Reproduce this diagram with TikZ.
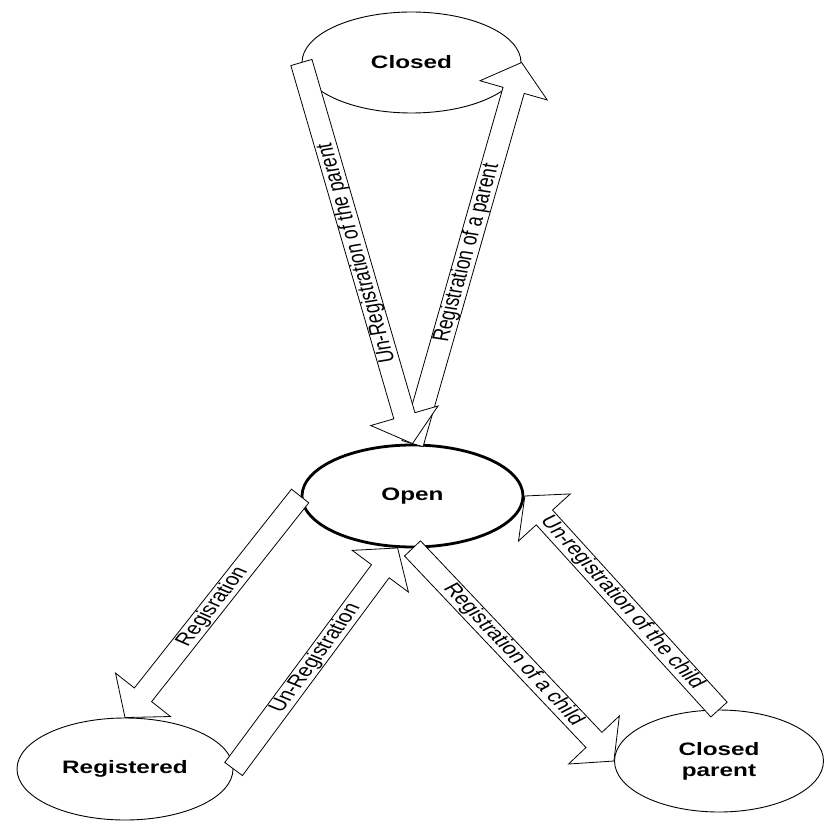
\documentclass[tikz,border=0pt]{standalone}
\usepackage{fontspec}
\setmainfont{Liberation Sans}
\usetikzlibrary{calc,shapes.geometric}
\tikzset{
  state/.style={ellipse, draw, line width=0.9pt, xscale=1.35, inner sep=0pt,
    font=\bfseries\fontsize{18}{21}\selectfont, align=center},
  openstate/.style={state, line width=2.8pt},
  barrow/.style={draw, fill=white, line width=0.8pt, line join=miter},
  alabel/.style={font=\fontsize{17.5}{20}\selectfont, inner sep=0pt, xscale=1.35}
}
% block arrow from #1 (tail) to #2 (tip)
\newcommand\blockarrow[2]{%
  \path ($(#2)!29pt!(#1)$) coordinate (hb);
  \draw[barrow] ($(#1)!11pt!-90:(#2)$) -- ($(hb)!11pt!-90:(#2)$)
    -- ($(hb)!35pt!-90:(#2)$) -- (#2) -- ($(hb)!35pt!90:(#2)$)
    -- ($(hb)!11pt!90:(#2)$) -- ($(#1)!11pt!90:(#2)$) -- cycle;}
% label reading from #1 towards #2, centred between them
\newcommand\arrowtext[3]{%
  \path let \p1=(#1), \p2=(#2), \n1={atan2(\y2-\y1,(\x2-\x1)/1.35)} in
    node[alabel, rotate=\n1] at ($(\p1)!0.5!(\p2)$) {#3};}
\begin{document}
\begin{tikzpicture}[x=1pt,y=1pt]
\useasboundingbox (0,0) rectangle (824,-821);
\node[state, minimum width=162.2pt, minimum height=101pt] (closed) at (411.5,-62.5) {Closed};
\node[openstate, minimum width=163.7pt, minimum height=102pt] (open) at (412.5,-496) {Open};
\node[state, minimum width=160pt, minimum height=102pt] (reg) at (125,-769) {Registered};
\node[state, minimum width=154.8pt, minimum height=102pt] (cparent) at (719,-761) {Closed\\parent};

\blockarrow{open.north}{closed.east}
\blockarrow{closed.west}{open.north}
\blockarrow{open.west}{reg.north}
\blockarrow{reg.east}{open.-102}
\blockarrow{open.south}{cparent.west}
\blockarrow{cparent.north}{open.east}

\arrowtext{open.north}{closed.west}{Un-Registration of the parent}
\arrowtext{open.north}{closed.east}{Registration of a parent}
\arrowtext{reg.north}{open.west}{Regisration}
\arrowtext{reg.east}{open.-102}{Un-Registration}
\arrowtext{open.south}{cparent.west}{Registration of a child}
\arrowtext{open.east}{cparent.north}{Un-registration of the child}
\end{tikzpicture}
\end{document}
